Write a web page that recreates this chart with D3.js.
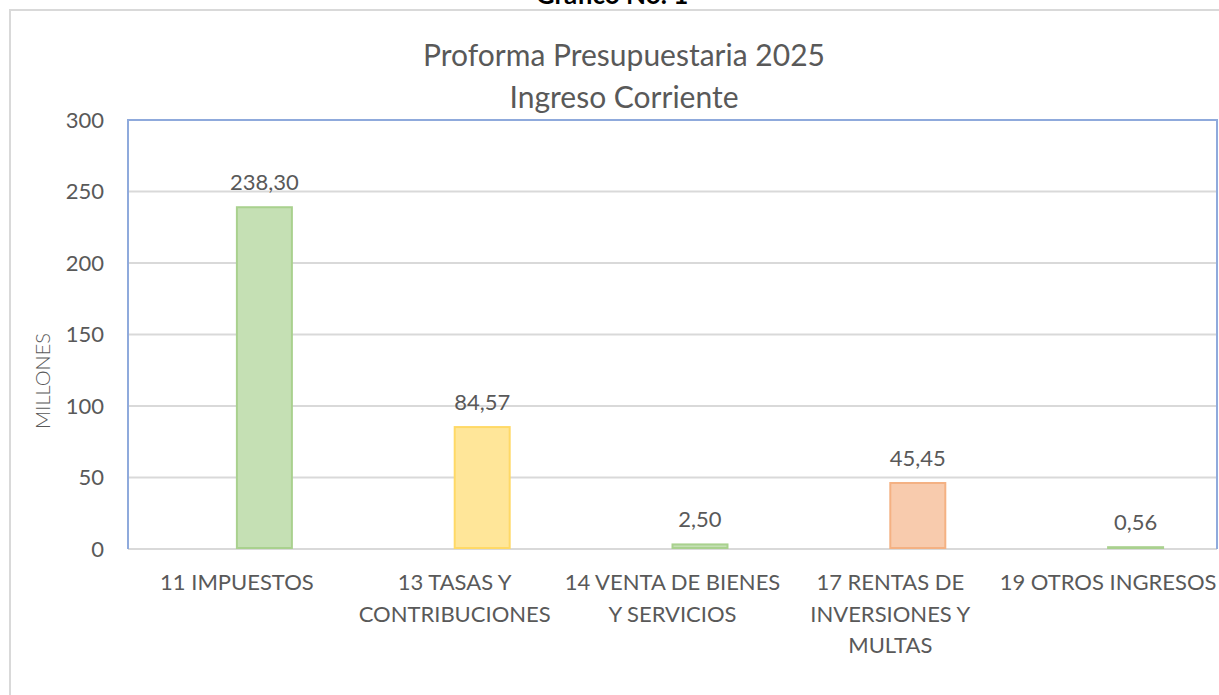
<!DOCTYPE html>
<html>
<head>
<meta charset="utf-8">
<script src="https://cdn.jsdelivr.net/npm/d3@7"></script>
<style>
  body { margin: 0; background: #fff; }
  svg { display: block; }
  text { font-family: Lato, "Open Sans", sans-serif; }
</style>
</head>
<body>
<div id="chart"></div>
<script>
// data
var categories = ["11 IMPUESTOS", "13 TASAS Y CONTRIBUCIONES", "14 VENTA DE BIENES Y SERVICIOS",
                  "17 RENTAS DE INVERSIONES Y MULTAS", "19 OTROS INGRESOS"];
var tickLines = [["11 IMPUESTOS"], ["13 TASAS Y", "CONTRIBUCIONES"], ["14 VENTA DE BIENES", "Y SERVICIOS"],
                 ["17 RENTAS DE", "INVERSIONES Y", "MULTAS"], ["19 OTROS INGRESOS"]];
var values = [238.30, 84.57, 2.50, 45.45, 0.56];
var yTicks = [0, 50, 100, 150, 200, 250, 300];
var fills = ["#C5E0B4", "#FFE699", "#C5E0B4", "#F8CBAD", "#C5E0B4"];
var strokes = ["#A9D18E", "#FFD966", "#A9D18E", "#F4B183", "#A9D18E"];

var W = 1219, H = 695;
var margin = {top: 120, right: 2, bottom: 146, left: 128};
var width = W - margin.left - margin.right,
    height = H - margin.top - margin.bottom;

var svg = d3.select("#chart").append("svg")
    .attr("width", W)
    .attr("height", H);

// outer chart frame (only top/left visible)
svg.append("path")
    .attr("d", "M10,695 V10 H1219")
    .attr("fill", "none")
    .attr("stroke", "#d9d9d9")
    .attr("stroke-width", 2);

// caption above, cut off by the crop like in the source
svg.append("text")
    .attr("x", 612).attr("y", 4)
    .attr("text-anchor", "middle")
    .style("font-weight", "bold")
    .style("font-size", "26px")
    .attr("fill", "#000")
    .text("Gráfico No. 1");

// title
var title = svg.append("text")
    .attr("text-anchor", "middle")
    .attr("fill", "#595959")
    .style("font-size", "30px");
title.append("tspan").attr("x", 624).attr("y", 66).text("Proforma Presupuestaria 2025");
title.append("tspan").attr("x", 624).attr("y", 108).text("Ingreso Corriente");

var g = svg.append("g")
    .attr("transform", "translate(" + margin.left + "," + margin.top + ")");

var x = d3.scaleBand()
    .domain(categories)
    .range([0, width])
    .paddingInner(0.495)
    .paddingOuter(0.2475);

// two series slots per category; only the second one carries values
var xs = d3.scaleBand()
    .domain(["s1", "s2"])
    .range([0, x.bandwidth()]);

var y = d3.scaleLinear()
    .domain([0, 300])
    .range([height, 0]);

// gridlines
g.append("g")
  .selectAll("line")
  .data(yTicks.filter(function(d) { return d > 0 && d < 300; }))
  .enter().append("line")
    .attr("x1", 0).attr("x2", width)
    .attr("y1", function(d) { return y(d); })
    .attr("y2", function(d) { return y(d); })
    .attr("stroke", "#d9d9d9")
    .attr("stroke-width", 2);

// x axis line
g.append("line")
    .attr("x1", 0).attr("x2", width)
    .attr("y1", height).attr("y2", height)
    .attr("stroke", "#d9d9d9")
    .attr("stroke-width", 2);

// y axis labels
var yAxis = g.append("g")
    .attr("transform", "translate(-24,0)")
    .call(d3.axisLeft(y).tickValues(yTicks).tickSize(0).tickPadding(0));
yAxis.select(".domain").remove();
yAxis.selectAll("text")
    .attr("fill", "#595959")
    .style("font-size", "22px")
    .style("font-family", "Lato, sans-serif");

// bars
var fmt = d3.formatLocale({decimal: ",", thousands: ".", grouping: [3], currency: ["$", ""]}).format(".2f");

g.append("g")
  .selectAll("rect")
  .data(values)
  .enter().append("rect")
    .attr("x", function(d, i) { return x(categories[i]) + xs("s2"); })
    .attr("y", function(d) { return y(d) - 1; })
    .attr("width", xs.bandwidth())
    .attr("height", function(d) { return height - y(d); })
    .attr("fill", function(d, i) { return fills[i]; })
    .attr("stroke", function(d, i) { return strokes[i]; })
    .attr("stroke-width", 2);

// value labels
g.append("g")
  .selectAll("text")
  .data(values)
  .enter().append("text")
    .attr("x", function(d, i) { return x(categories[i]) + xs("s2") + xs.bandwidth() / 2; })
    .attr("y", function(d) { return y(d) - 18; })
    .attr("text-anchor", "middle")
    .attr("fill", "#595959")
    .style("font-size", "22px")
    .text(function(d) { return fmt(d); });

// plot border
g.append("path")
    .attr("d", "M0," + height + " V0 H" + width + " V" + height)
    .attr("fill", "none")
    .attr("stroke", "#8FAADC")
    .attr("stroke-width", 2);

// category labels
var xl = g.append("g")
  .selectAll("text")
  .data(categories)
  .enter().append("text")
    .attr("text-anchor", "middle")
    .attr("fill", "#595959")
    .style("font-size", "22px");
xl.each(function(c, i) {
  var t = d3.select(this);
  tickLines[i].forEach(function(line, j) {
    t.append("tspan")
      .attr("x", x(c) + x.bandwidth() / 2)
      .attr("y", height + 41 + j * 31.5)
      .text(line);
  });
});

// axis title
svg.append("text")
    .attr("transform", "translate(50,381) rotate(-90)")
    .attr("text-anchor", "middle")
    .attr("fill", "#595959")
    .style("font-size", "20px")
    .style("font-weight", 300)
    .text("MILLONES");
</script>
</body>
</html>
